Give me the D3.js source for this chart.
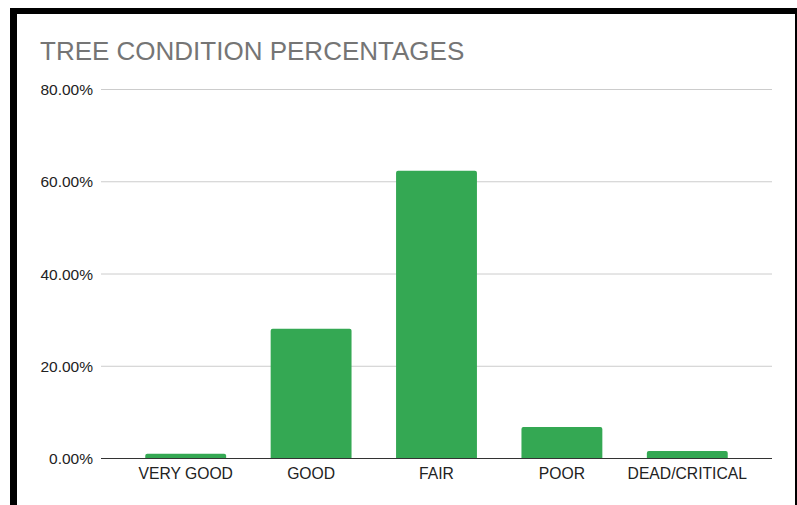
<!DOCTYPE html>
<html>
<head>
<meta charset="utf-8">
<script src="https://cdn.jsdelivr.net/npm/d3@7"></script>
<style>
  body { margin: 0; background: #fff; }
  svg { display: block; font-family: "Liberation Sans", Arial, sans-serif; }
</style>
</head>
<body>
<svg width="797" height="505"></svg>
<script>
// chart data
var categories = ["VERY GOOD", "GOOD", "FAIR", "POOR", "DEAD/CRITICAL"];
var percentages = [0.9, 28.0, 62.3, 6.7, 1.5];
var yTicks = [0, 20, 40, 60, 80];

var svg = d3.select("svg");

// frame around the screenshot
svg.append("rect").attr("x", 10).attr("y", 8).attr("width", 787).attr("height", 6).attr("fill", "#000");
svg.append("rect").attr("x", 10).attr("y", 8).attr("width", 7).attr("height", 497).attr("fill", "#000");
svg.append("rect").attr("x", 795).attr("y", 14).attr("width", 2).attr("height", 491).attr("fill", "#000");

// title
svg.append("text")
  .attr("x", 40)
  .attr("y", 60)
  .attr("fill", "#757575")
  .style("font-size", "26px")
  .text("TREE CONDITION PERCENTAGES");

var gridLeft = 101, gridRight = 772;

var x = d3.scaleBand()
  .domain(categories)
  .range([123, 750])
  .paddingInner(0.355)
  .paddingOuter(0.1775);

var y = d3.scaleLinear()
  .domain([0, 80])
  .range([458, 89]);

// gridlines
svg.append("g")
  .selectAll("line")
  .data(yTicks.slice(1))
  .enter()
  .append("line")
  .attr("x1", gridLeft)
  .attr("x2", gridRight)
  .attr("y1", function (d) { return y(d) + 0.5; })
  .attr("y2", function (d) { return y(d) + 0.5; })
  .attr("stroke", "#cccccc")
  .attr("stroke-width", 1);

// y labels
svg.append("g")
  .selectAll("text")
  .data(yTicks)
  .enter()
  .append("text")
  .attr("x", 93)
  .attr("y", function (d) { return y(d) + 6; })
  .attr("text-anchor", "end")
  .attr("fill", "#222")
  .style("font-size", "15.5px")
  .text(function (d) { return d.toFixed(2) + "%"; });

// bars with slightly rounded tops
var r = 2;
svg.append("g")
  .selectAll("path")
  .data(categories)
  .enter()
  .append("path")
  .attr("fill", "#34a853")
  .attr("d", function (d, i) {
    var x0 = x(d), w = x.bandwidth();
    var top = y(percentages[i]), bottom = y(0);
    var rr = Math.min(r, (bottom - top) / 2);
    return "M" + x0 + "," + bottom +
      "V" + (top + rr) +
      "Q" + x0 + "," + top + " " + (x0 + rr) + "," + top +
      "H" + (x0 + w - rr) +
      "Q" + (x0 + w) + "," + top + " " + (x0 + w) + "," + (top + rr) +
      "V" + bottom + "Z";
  });

// baseline
svg.append("line")
  .attr("x1", gridLeft)
  .attr("x2", gridRight)
  .attr("y1", y(0) + 0.5)
  .attr("y2", y(0) + 0.5)
  .attr("stroke", "#333")
  .attr("stroke-width", 1);

// category labels
svg.append("g")
  .selectAll("text")
  .data(categories)
  .enter()
  .append("text")
  .attr("x", function (d) { return x(d) + x.bandwidth() / 2; })
  .attr("y", 479)
  .attr("text-anchor", "middle")
  .attr("fill", "#222")
  .style("font-size", "15.7px")
  .text(function (d) { return d; });
</script>
</body>
</html>
